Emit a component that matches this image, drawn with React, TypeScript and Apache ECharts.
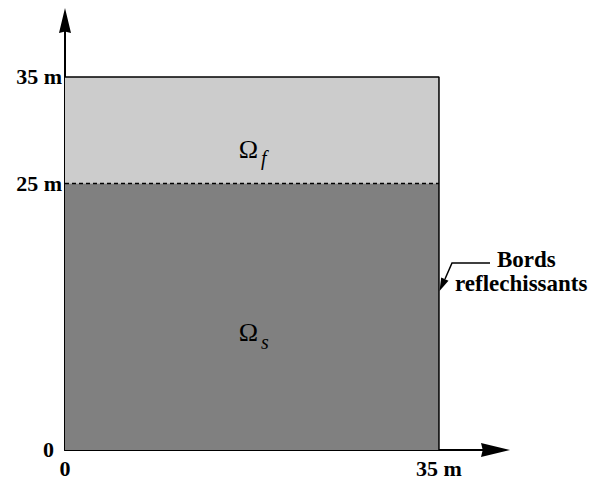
import React, { useEffect, useRef } from "react";
import * as echarts from "echarts";

// ---- data ----
const xTicks = [0, 35];
const yTicks = [0, 25, 35];
const domainWidth = 35;
const layerSubscripts = ["f", "s"];
const layerBottoms = [25, 0];
const layerTops = [35, 25];
const interfaceDepth = 25;
const annotationLines = ["Bords", "reflechissants"];

const layerFills = ["#cccccc", "#808080"];
const serif = "Liberation Serif";
const arrowPath = "path://M6,0 L12,25 L6,23.5 L0,25 Z";

export default function App() {
  const ref = useRef<HTMLDivElement>(null);

  useEffect(() => {
    if (!ref.current) return;
    const chart = echarts.init(ref.current, null, { renderer: "svg" });
    const topVal = Math.max(...layerTops);

    const layerData = layerSubscripts.map((s, i) => [0, layerBottoms[i], domainWidth, layerTops[i]]);

    const labelStyle = {
      color: "#000",
      fontFamily: serif,
      fontWeight: "bold" as const,
      fontSize: 22,
    };

    chart.setOption({
      animation: false,
      grid: { left: 65, top: 20.5, right: 96.5, bottom: 28, containLabel: false },
      xAxis: {
        type: "value",
        min: 0,
        max: 40.29,
        interval: 5,
        splitLine: { show: false },
        axisTick: { show: false },
        axisLine: {
          show: true,
          symbol: ["none", arrowPath],
          symbolSize: [14, 29],
          lineStyle: { color: "#000", width: 2 },
        },
        axisLabel: {
          ...labelStyle,
          margin: 7,
          formatter: (v: number) => (v === 0 ? "0" : xTicks.includes(v) ? `${v} m` : ""),
        },
      },
      yAxis: {
        type: "value",
        min: 0,
        max: 40.29,
        interval: 5,
        splitLine: { show: false },
        axisTick: { show: false },
        axisLine: {
          show: true,
          symbol: ["none", arrowPath],
          symbolSize: [12, 25],
          lineStyle: { color: "#000", width: 2 },
        },
        axisLabel: {
          ...labelStyle,
          margin: 3,
          formatter: (v: number) => (v === 0 ? "{z|0}" : yTicks.includes(v) ? `${v} m` : ""),
          rich: {
            z: { ...labelStyle, padding: [0, 8, 2, 0] },
          },
        },
      },
      series: [
        {
          type: "custom",
          z: 1,
          data: layerData,
          renderItem: (params: any, api: any) => {
            const x0 = api.value(0);
            const y0 = api.value(1);
            const x1 = api.value(2);
            const y1 = api.value(3);
            const tl = api.coord([x0, y1]);
            const br = api.coord([x1, y0]);
            const i = params.dataIndex;
            const cx = (tl[0] + br[0]) / 2;
            const cy = (tl[1] + br[1]) / 2 + (i === 0 ? 19 : 16);
            return {
              type: "group",
              children: [
                {
                  type: "rect",
                  shape: { x: tl[0], y: tl[1], width: br[0] - tl[0], height: br[1] - tl[1] },
                  style: { fill: layerFills[i] },
                },
                {
                  type: "text",
                  style: {
                    text: "Ω",
                    x: cx + 6,
                    y: cy,
                    align: "right",
                    verticalAlign: "middle",
                    fontFamily: serif,
                    fontSize: 26,
                    fill: "#000",
                  },
                },
                {
                  type: "text",
                  style: {
                    text: layerSubscripts[i],
                    x: cx + 9,
                    y: cy + 9,
                    align: "left",
                    verticalAlign: "middle",
                    fontFamily: serif,
                    fontStyle: "italic",
                    fontSize: 20,
                    fill: "#000",
                  },
                },
              ],
            };
          },
        },
        {
          type: "line",
          z: 3,
          symbol: "none",
          data: [
            [0, topVal],
            [domainWidth, topVal],
            [domainWidth, 0],
          ],
          lineStyle: { color: "#000", width: 1.5 },
        },
        {
          type: "line",
          z: 3,
          symbol: "none",
          data: [
            [0, interfaceDepth],
            [domainWidth, interfaceDepth],
          ],
          lineStyle: { color: "#000", width: 1.5, type: [4, 3] },
        },
      ],
      graphic: [
        {
          type: "polyline",
          shape: { points: [[490, 263], [452, 263], [445, 279]] },
          style: { stroke: "#000", lineWidth: 1.5, fill: null },
        },
        {
          type: "polygon",
          shape: { points: [[439.5, 291], [448.5, 280.7], [441.2, 277.5]] },
          style: { fill: "#000" },
        },
        {
          type: "text",
          style: {
            text: annotationLines[0],
            x: 497,
            y: 259,
            align: "left",
            verticalAlign: "middle",
            fontFamily: serif,
            fontWeight: "bold",
            fontSize: 23,
            fill: "#000",
          },
        },
        {
          type: "text",
          style: {
            text: annotationLines[1],
            x: 455,
            y: 283,
            align: "left",
            verticalAlign: "middle",
            fontFamily: serif,
            fontWeight: "bold",
            fontSize: 23,
            fill: "#000",
          },
        },
      ],
    });
    return () => chart.dispose();
  }, []);

  return (
    <div
      ref={ref}
      style={{ position: "absolute", left: 0, top: 0, width: 592, height: 479, background: "#fff" }}
    />
  );
}
